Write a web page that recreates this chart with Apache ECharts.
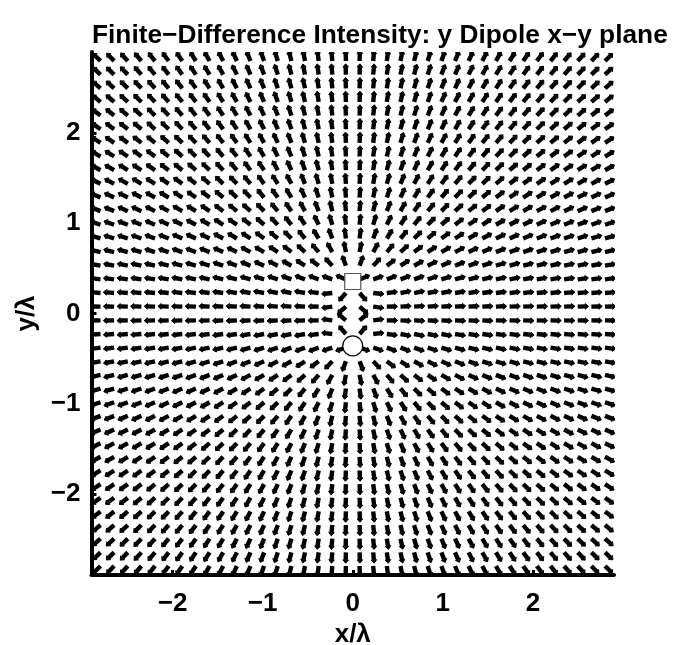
<!DOCTYPE html>
<html>
<head>
<meta charset="utf-8">
<script src="https://cdn.jsdelivr.net/npm/echarts@6/dist/echarts.min.js"></script>
<style>
  html, body { margin: 0; padding: 0; background: #fff; }
  #quiver { width: 677px; height: 645px; }
</style>
</head>
<body>
<div id="quiver"></div>
<script>
// grid of sample points (x/λ and y/λ): 38 x 38
const gridPos = [-2.8, -2.649, -2.497, -2.346, -2.195, -2.043, -1.892, -1.741, -1.589, -1.438,
  -1.286, -1.135, -0.984, -0.832, -0.681, -0.530, -0.378, -0.227, -0.076, 0.076,
  0.227, 0.378, 0.530, 0.681, 0.832, 0.984, 1.135, 1.286, 1.438, 1.589,
  1.741, 1.892, 2.043, 2.195, 2.346, 2.497, 2.649, 2.8]
// the two sources of the dipole, marked with a square and a circle
const squareSrc = [0, 0.355]
const circleSrc = [0, -0.36]
const xTicks = [-2, -1, 0, 1, 2]
const yTicks = [-2, -1, 0, 1, 2]
const arrowLen = 0.12 // in λ, every arrow has the same length

// direction of the intensity flow at each grid point: away from both sources
let field = []
gridPos.forEach((y) => {
  gridPos.forEach((x) => {
    let u = 0
    let v = 0
    ;[squareSrc, circleSrc].forEach((s) => {
      let dx = x - s[0]
      let dy = y - s[1]
      let r2 = dx * dx + dy * dy
      u += dx / r2
      v += dy / r2
    })
    let n = Math.sqrt(u * u + v * v)
    field.push([x, y, u / n, v / n])
  })
})

const minus = (v) => String(v).replace('-', '\u2212')
const font = { fontFamily: 'Liberation Sans', fontSize: 26, fontWeight: 'bold', color: '#000' }

let chart = echarts.init(document.getElementById('quiver'))
let option = {
  animation: false,
  title: {
    text: 'Finite\u2212Difference Intensity: y Dipole x\u2212y plane',
    left: 87,
    top: 18,
    textStyle: Object.assign({}, font, { fontSize: 26.3 })
  },
  grid: {
    left: 91.5,
    right: 63,
    top: 52,
    bottom: 70,
    outerBoundsMode: 'none'
  },
  xAxis: {
    type: 'value',
    min: -2.9,
    max: 2.9,
    interval: 1,
    name: 'x/λ',
    nameLocation: 'middle',
    nameGap: 37,
    nameTextStyle: font,
    axisLine: { onZero: false, lineStyle: { color: '#000', width: 4 } },
    axisTick: { inside: true, length: 5, lineStyle: { color: '#000', width: 3 }, customValues: xTicks },
    axisLabel: Object.assign({ customValues: xTicks, formatter: minus, margin: 16 }, font),
    splitLine: { show: false }
  },
  yAxis: {
    type: 'value',
    min: -2.9,
    max: 2.9,
    interval: 1,
    name: 'y/λ',
    nameLocation: 'middle',
    nameGap: 46,
    nameTextStyle: font,
    axisLine: { onZero: false, lineStyle: { color: '#000', width: 4 } },
    axisTick: { inside: true, length: 5, lineStyle: { color: '#000', width: 3 }, customValues: yTicks },
    axisLabel: Object.assign({ customValues: yTicks, formatter: minus, margin: 11 }, font),
    splitLine: { show: false }
  },
  series: [
    {
      type: 'custom',
      clip: true,
      data: field,
      renderItem(params, api) {
        let x = api.value(0)
        let y = api.value(1)
        let p0 = api.coord([x, y])
        let p1 = api.coord([x + arrowLen * api.value(2), y + arrowLen * api.value(3)])
        let dx = p1[0] - p0[0]
        let dy = p1[1] - p0[1]
        let len = Math.sqrt(dx * dx + dy * dy)
        let nx = -dy / len
        let ny = dx / len
        let bx = p0[0] + dx * 0.7
        let by = p0[1] + dy * 0.7
        let hw = 2.8
        return {
          type: 'group',
          children: [
            {
              type: 'line',
              shape: { x1: p0[0], y1: p0[1], x2: bx, y2: by },
              style: { stroke: '#000', lineWidth: 4.4 }
            },
            {
              type: 'polygon',
              shape: { points: [[p1[0], p1[1]], [bx + nx * hw, by + ny * hw], [bx - nx * hw, by - ny * hw]] },
              style: { fill: '#000', stroke: '#000', lineWidth: 1 }
            }
          ]
        }
      }
    },
    {
      type: 'scatter',
      symbol: 'rect',
      symbolSize: 16,
      z: 5,
      data: [squareSrc],
      itemStyle: { color: '#fff', borderColor: '#555', borderWidth: 1.2, opacity: 1 }
    },
    {
      type: 'scatter',
      symbol: 'circle',
      symbolSize: 20,
      z: 5,
      data: [circleSrc],
      itemStyle: { color: '#fff', borderColor: '#000', borderWidth: 1.2, opacity: 1 }
    }
  ]
}
chart.setOption(option)
</script>
</body>
</html>
